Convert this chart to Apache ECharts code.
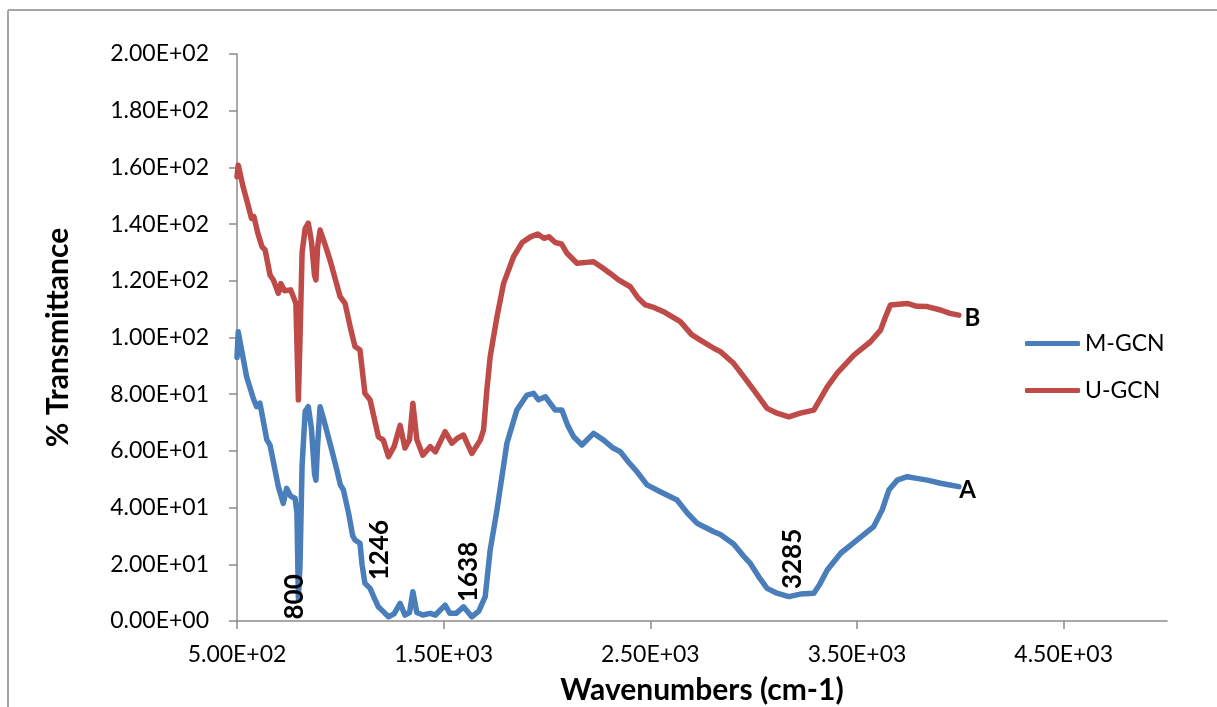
<!DOCTYPE html>
<html>
<head>
<meta charset="utf-8">
<title>FTIR M-GCN / U-GCN</title>
<script src="https://cdn.jsdelivr.net/npm/echarts@6/dist/echarts.min.js"></script>
<style>
  html, body { margin: 0; padding: 0; background: #fff; }
  #chart { width: 1217px; height: 707px; }
</style>
</head>
<body>
<div id="chart"></div>
<script>
// 数据：波数 (cm-1) 和透过率 (%)
var mgcnWave = [500, 506, 547, 579, 595, 611, 644, 660, 700, 724, 740, 760, 781, 790, 797, 805, 815, 830, 845, 860, 875, 882, 890, 902, 920, 950, 983, 1000, 1015, 1040, 1060, 1071, 1095, 1105, 1119, 1144, 1165, 1184, 1208, 1233, 1260, 1289, 1313, 1335, 1351, 1370, 1399, 1435, 1460, 1507, 1530, 1560, 1596, 1636, 1670, 1701, 1725, 1758, 1806, 1854, 1903, 1935, 1959, 1992, 2040, 2072, 2100, 2129, 2169, 2225, 2274, 2320, 2355, 2395, 2435, 2484, 2548, 2629, 2680, 2726, 2807, 2839, 2903, 2950, 2984, 3030, 3065, 3113, 3170, 3226, 3291, 3320, 3356, 3421, 3501, 3581, 3622, 3654, 3695, 3743, 3790, 3840, 3904, 3950, 3993];
var mgcnTrans = [93, 102, 86, 78.5, 75.6, 76.8, 64, 62, 47.4, 41.5, 46.8, 44, 43.3, 38, 8, 20, 55, 74, 75.6, 68, 52, 49.7, 62, 75.6, 71, 62.7, 53.3, 48, 46.2, 38, 30, 28.6, 27.4, 20, 13.3, 11.5, 8, 5, 3.3, 1.5, 2.5, 6.2, 2.1, 3, 10.3, 3, 2.1, 2.7, 2.1, 5.6, 2.7, 2.7, 5, 1.5, 3.5, 8.6, 25, 39.2, 62.7, 74.4, 79.7, 80.3, 78, 79.1, 74.4, 74.4, 69, 65, 62.1, 66.2, 63.8, 61, 59.7, 56, 52.7, 48, 45.6, 42.7, 38, 34.5, 31.5, 30.5, 27.2, 23, 20.3, 15, 11.5, 9.8, 8.6, 9.5, 9.8, 13, 18, 23.9, 28.6, 33.3, 39.2, 46.2, 49.7, 50.9, 50.3, 49.7, 48.6, 48, 47.4];

var ugcnWave = [500, 506, 530, 547, 570, 582, 600, 621, 636, 660, 676, 700, 712, 730, 760, 785, 797, 805, 815, 830, 845, 860, 875, 882, 890, 902, 925, 950, 999, 1023, 1050, 1071, 1095, 1119, 1144, 1184, 1208, 1233, 1260, 1289, 1313, 1335, 1351, 1370, 1399, 1435, 1460, 1507, 1540, 1565, 1596, 1636, 1677, 1693, 1709, 1725, 1758, 1790, 1838, 1880, 1920, 1955, 1985, 2010, 2040, 2070, 2097, 2145, 2190, 2225, 2270, 2306, 2346, 2403, 2440, 2476, 2520, 2564, 2645, 2700, 2742, 2807, 2839, 2903, 2952, 3000, 3065, 3113, 3170, 3226, 3291, 3356, 3404, 3485, 3565, 3614, 3638, 3662, 3743, 3790, 3840, 3904, 3950, 3993];
var ugcnTrans = [156.7, 160.8, 153, 148.5, 142, 142.6, 137, 132, 130.9, 122, 120.3, 115.6, 119, 116.5, 116.8, 112, 78, 100, 130, 138.5, 140.3, 134, 122, 120.3, 132, 137.9, 133, 127.3, 114.4, 112, 103, 96.8, 95.6, 80.3, 78, 65, 63.8, 58, 61.5, 69, 61, 64, 76.8, 64, 58.5, 61.5, 59.7, 66.8, 62.7, 64.4, 65.6, 59.1, 63.8, 67.4, 81.5, 93.2, 107.3, 119.1, 128.5, 133.5, 135.5, 136.5, 135, 135.5, 133.5, 133, 129.7, 126.2, 126.5, 126.7, 124.5, 122.6, 120.3, 117.9, 114, 111.5, 110.5, 109.1, 105.6, 101, 99.1, 96.2, 95, 90.9, 86.2, 81.5, 75, 73.3, 72, 73.3, 74.4, 82.6, 87.4, 93.8, 98.5, 102.6, 107.3, 111.5, 112, 111, 110.9, 109.7, 108.5, 107.9];

var xTickValues = [500, 1500, 2500, 3500, 4500];

// 峰的标注文字和它们在数据坐标里的位置
var peakText = ['800', '1246', '1638', '3285'];
var peakWave = [781, 1188, 1623, 3188];
var peakTrans = [8.5, 25, 17.3, 21.9];
var endText = ['A', 'B'];
var endWave = [4035, 4059];
var endTrans = [46.2, 106.9];

var FONT = 'Lato, "Open Sans", sans-serif';

function sciLabel(v) {
  var e = v === 0 ? 0 : Math.floor(Math.log10(Math.abs(v)) + 1e-9);
  var m = v / Math.pow(10, e);
  return m.toFixed(2) + 'E+' + (e < 10 ? '0' + e : e);
}

function zip(xs, ys) {
  return xs.map(function (x, i) { return [x, ys[i]]; });
}

var myChart = echarts.init(document.getElementById('chart'));

var frame = [
  { type: 'line', shape: { x1: 8, y1: 10, x2: 1217, y2: 10 }, style: { stroke: '#a6a6a6', lineWidth: 2 } },
  { type: 'line', shape: { x1: 8, y1: 10, x2: 8, y2: 707 }, style: { stroke: '#a6a6a6', lineWidth: 2 } }
];

var optionLine = {
  animation: false,
  textStyle: { fontFamily: FONT },
  graphic: frame,
  legend: {
    data: ['M-GCN', 'U-GCN'],
    orient: 'vertical',
    left: 1020,
    top: 327,
    icon: 'roundRect',
    itemWidth: 55,
    itemHeight: 5,
    itemGap: 24,
    textStyle: { fontFamily: FONT, fontSize: 23, color: '#000' }
  },
  grid: {
    left: 237,
    right: 50,
    top: 54,
    bottom: 86,
    containLabel: false,
    outerBoundsMode: 'none'
  },
  xAxis: {
    type: 'value',
    min: 500,
    max: 5000,
    name: 'Wavenumbers (cm-1)',
    nameLocation: 'middle',
    nameGap: 54,
    nameTextStyle: { fontFamily: FONT, fontSize: 30, fontWeight: 'bold', color: '#000' },
    splitLine: { show: false },
    axisLine: { lineStyle: { color: '#8c8c8c', width: 1.5 } },
    axisTick: { customValues: xTickValues, length: 8, lineStyle: { color: '#8c8c8c', width: 1.5 } },
    axisLabel: {
      customValues: xTickValues,
      margin: 22,
      fontFamily: FONT,
      fontSize: 23,
      color: '#000',
      formatter: sciLabel
    }
  },
  yAxis: {
    type: 'value',
    min: 0,
    max: 200,
    interval: 20,
    name: '% Transmittance',
    nameLocation: 'middle',
    nameGap: 164,
    nameRotate: 90,
    nameTextStyle: { fontFamily: FONT, fontSize: 30, fontWeight: 'bold', color: '#000' },
    splitLine: { show: false },
    axisLine: { show: true, lineStyle: { color: '#8c8c8c', width: 1.5 } },
    axisTick: { show: true, length: 8, lineStyle: { color: '#8c8c8c', width: 1.5 } },
    axisLabel: {
      margin: 28,
      fontFamily: FONT,
      fontSize: 23,
      color: '#000',
      formatter: sciLabel
    }
  },
  series: [
    {
      name: 'M-GCN',
      type: 'line',
      data: zip(mgcnWave, mgcnTrans),
      showSymbol: false,
      symbol: 'none',
      color: '#4a7ebb',
      lineStyle: { width: 5.5, color: '#4a7ebb', cap: 'round', join: 'round' },
      emphasis: { disabled: true },
      z: 3
    },
    {
      name: 'U-GCN',
      type: 'line',
      data: zip(ugcnWave, ugcnTrans),
      showSymbol: false,
      symbol: 'none',
      color: '#be4b48',
      lineStyle: { width: 5.5, color: '#be4b48', cap: 'round', join: 'round' },
      emphasis: { disabled: true },
      z: 2
    }
  ]
};

myChart.setOption(optionLine);

// 标注文字：用坐标轴换算到像素再画
var notes = [];
peakText.forEach(function (t, i) {
  var p = myChart.convertToPixel({ gridIndex: 0 }, [peakWave[i], peakTrans[i]]);
  notes.push({
    type: 'text', x: p[0], y: p[1], rotation: Math.PI / 2, z: 10,
    style: { text: t, fontFamily: FONT, fontSize: 26, fontWeight: 'bold', fill: '#000', align: 'center', verticalAlign: 'middle' }
  });
});
endText.forEach(function (t, i) {
  var p = myChart.convertToPixel({ gridIndex: 0 }, [endWave[i], endTrans[i]]);
  notes.push({
    type: 'text', x: p[0], y: p[1], z: 10,
    style: { text: t, fontFamily: FONT, fontSize: 24, fontWeight: 'bold', fill: '#000', align: 'center', verticalAlign: 'middle' }
  });
});
myChart.setOption({ graphic: frame.concat(notes) });
</script>
</body>
</html>
